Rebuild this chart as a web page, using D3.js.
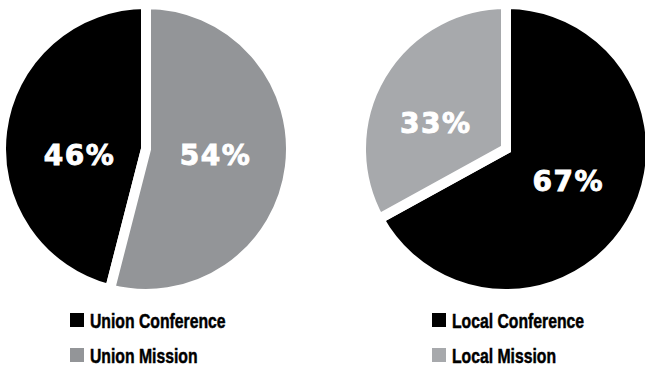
<!DOCTYPE html>
<html>
<head>
<meta charset="utf-8">
<script src="https://cdn.jsdelivr.net/npm/d3@7"></script>
<style>
  body { margin: 0; background: #fff; }
  .pct { font-family: "DejaVu Sans", sans-serif; font-weight: bold; fill: #fff; stroke: #fff; stroke-width: 0.9px; }
  .legend text { font-family: "Liberation Sans", Arial, sans-serif; font-weight: bold; fill: #000; stroke: #000; stroke-width: 0.5px; }
</style>
</head>
<body>
<div id="container"></div>
<script>
// data
var unionCategories = ["Union Conference", "Union Mission"];
var unionValues = [46, 54];
var localCategories = ["Local Conference", "Local Mission"];
var localValues = [67, 33];

var width = 645, height = 367;

var svg = d3.select("#container").append("svg")
    .attr("width", width)
    .attr("height", height);

var charts = [
  { cats: unionCategories, vals: unionValues, cx: 146, cy: 149,
    colors: ["#000000", "#939598"], endAtTop: true,
    nudge: [[3, 15], [0, -3]], legendX: 70 },
  { cats: localCategories, vals: localValues, cx: 506, cy: 149,
    colors: ["#000000", "#a7a9ac"], endAtTop: false,
    nudge: [[2, -3], [-10, 10]], legendX: 432 }
];

var radius = 140, gap = 10;

var arc = d3.arc()
    .innerRadius(0)
    .outerRadius(radius + gap / 2);

var labelArc = d3.arc()
    .innerRadius(70)
    .outerRadius(70);

charts.forEach(function(c) {
  var total = d3.sum(c.vals);
  var start = c.endAtTop ? -2 * Math.PI * c.vals[0] / total : 0;

  var pie = d3.pie()
      .sort(null)
      .startAngle(start)
      .endAngle(start + 2 * Math.PI);

  var color = d3.scaleOrdinal()
      .domain(c.cats)
      .range(c.colors);

  var data = c.cats.map(function(d, i) { return { cat: d, value: c.vals[i] }; });
  var arcs = pie.value(function(d) { return d.value; })(data);

  var g = svg.append("g")
      .attr("transform", "translate(" + c.cx + "," + c.cy + ")");

  g.selectAll(".slice")
    .data(arcs)
    .enter()
    .append("path")
      .attr("class", "slice")
      .attr("d", arc)
      .attr("fill", function(d) { return color(d.data.cat); })
      .attr("stroke", "#fff")
      .attr("stroke-width", gap)
      .attr("stroke-linejoin", "miter");

  g.selectAll(".pct")
    .data(arcs)
    .enter()
    .append("text")
      .attr("class", "pct")
      .attr("x", function(d, i) { return labelArc.centroid(d)[0] + c.nudge[i][0]; })
      .attr("y", function(d, i) { return labelArc.centroid(d)[1] + c.nudge[i][1]; })
      .attr("dy", "0.35em")
      .attr("text-anchor", "middle")
      .style("font-size", "28px")
      .style("letter-spacing", "1.5px")
      .text(function(d) { return d.data.value + "%"; });

  // legend
  var leg = svg.append("g")
      .attr("class", "legend")
      .attr("transform", "translate(" + c.legendX + ",313)");

  var row = leg.selectAll("g")
    .data(c.cats)
    .enter()
    .append("g")
      .attr("transform", function(d, i) { return "translate(0," + (i * 35) + ")"; });

  row.append("rect")
      .attr("width", 14)
      .attr("height", 14)
      .attr("fill", function(d) { return color(d); });

  // condensed look: squeeze the bold sans horizontally
  row.append("text")
      .attr("transform", "translate(20,14.5) scale(0.75,1)")
      .style("font-size", "21px")
      .text(function(d) { return d; });
});
</script>
</body>
</html>
